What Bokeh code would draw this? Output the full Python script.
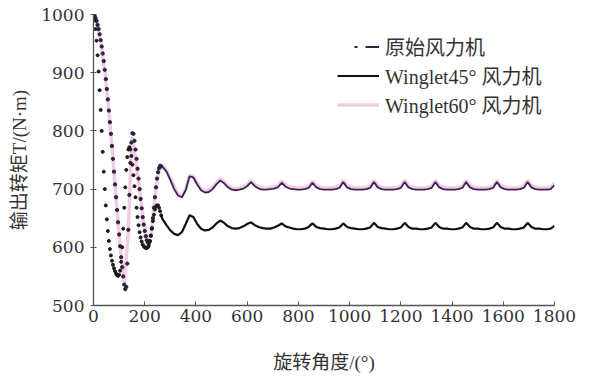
from bokeh.plotting import figure
from bokeh.models import Legend, LegendItem
from bokeh.embed import file_html
from bokeh.resources import INLINE

# ---------------- data ----------------
trans_angle = list(range(0, 265, 4))          # transient part, deg
steady_angle = list(range(270, 1801, 15))     # steady part, deg
w60_angle = list(range(0, 1801, 15))

orig_trans = [1000, 998, 994, 989, 982, 975, 966, 956, 945, 933,
              920, 905, 889, 872, 854, 835, 815, 795, 774, 752,
              730, 708, 686, 664, 643, 622, 602, 583, 566, 550,
              536, 528, 532, 572, 630, 690, 745, 780, 796, 795,
              783, 768, 752, 735, 718, 700, 683, 667, 652, 639,
              628, 619, 612, 608, 607, 611, 620, 633, 650, 668,
              686, 703, 718, 729, 736, 740, 739]

w45_trans = [1000, 990, 975, 955, 930, 902, 870, 836, 800, 764,
             730, 700, 672, 648, 628, 611, 597, 586, 577, 570,
             564, 559, 555, 552, 551, 553,
             560, 575, 600, 632, 668, 703, 733, 755, 768, 772,
             768, 757, 742, 724, 705, 686, 668, 652, 638, 626,
             617, 610, 605, 602, 600,
             599, 599, 600, 603, 610, 620, 632, 645, 656, 665,
             670, 672, 672, 668, 662, 655]

orig_steady = [738, 730, 716, 700, 689, 686, 698, 722,
               720, 708, 698, 694, 695, 700, 708, 715,
               710, 703, 699, 698, 699, 701, 705, 712,
               705, 701, 699, 699, 700, 701, 703, 711,
               704, 701, 700, 699, 699, 700, 702, 711,
               703, 700, 699, 699, 699, 700, 702, 712,
               703, 700, 699, 699, 699, 700, 702, 712,
               703, 700, 699, 699, 699, 700, 702, 712,
               703, 700, 699, 699, 699, 700, 702, 712,
               703, 700, 699, 699, 699, 700, 702, 712,
               703, 700, 699, 699, 699, 700, 702, 712,
               703, 700, 699, 699, 699, 700, 702, 712,
               703, 700, 699, 699, 699, 700, 707]

w45_steady = [648, 638, 629, 623, 621, 626, 640, 655,
              652, 640, 632, 629, 630, 634, 641, 646,
              642, 636, 633, 632, 633, 636, 640, 643,
              638, 635, 633, 632, 632, 634, 637, 641,
              636, 634, 632, 631, 631, 632, 635, 641,
              635, 633, 632, 631, 631, 632, 634, 641,
              635, 633, 632, 631, 631, 632, 634, 642,
              635, 633, 632, 631, 631, 632, 634, 642,
              635, 632, 632, 631, 631, 632, 634, 642,
              635, 632, 632, 631, 631, 632, 634, 642,
              635, 632, 632, 631, 631, 632, 634, 642,
              635, 632, 632, 631, 631, 632, 634, 642,
              635, 632, 632, 631, 631, 632, 637]

w60_torque = [1000, 984, 950, 900, 835, 757, 675, 597, 540, 620,
              790, 750, 700, 645, 612, 622, 686, 734,
              740, 733, 719, 704, 692, 689, 700, 724,
              722, 711, 701, 697, 698, 703, 711, 718,
              713, 706, 702, 701, 702, 704, 708, 715,
              708, 704, 702, 702, 703, 704, 706, 714,
              707, 704, 703, 702, 702, 703, 705, 714,
              706, 703, 702, 702, 702, 703, 705, 715,
              706, 703, 702, 702, 702, 703, 705, 715,
              706, 703, 702, 702, 702, 703, 705, 715,
              706, 703, 702, 702, 702, 703, 705, 715,
              706, 703, 702, 702, 702, 703, 705, 715,
              706, 703, 702, 702, 702, 703, 705, 715,
              706, 703, 702, 702, 702, 703, 705, 715,
              706, 703, 702, 702, 702, 703, 710]

x_ticks = [0, 200, 400, 600, 800, 1000, 1200, 1400, 1600, 1800]
y_ticks = [500, 600, 700, 800, 900, 1000]

labels = ["原始风力机", "Winglet45° 风力机", "Winglet60° 风力机"]
x_title = "旋转角度/(°)"
y_title = "输出转矩T/(N·m)"

assert len(orig_trans) == len(trans_angle), (len(orig_trans), len(trans_angle))
assert len(w45_trans) == len(trans_angle), (len(w45_trans), len(trans_angle))
assert len(orig_steady) == len(steady_angle), (len(orig_steady), len(steady_angle))
assert len(w45_steady) == len(steady_angle), (len(w45_steady), len(steady_angle))
assert len(w60_torque) == len(w60_angle), (len(w60_torque), len(w60_angle))

# ---------------- figure ----------------
NUM_FONT = "DejaVu Serif"
CJK_FONT = "Liberation Serif, Noto Sans CJK SC"
DARK = "#2b2340"

p = figure(width=586, height=375, x_range=(0, 1800), y_range=(500, 1000),
           output_backend="svg", toolbar_location=None,
           min_border_left=93, min_border_right=32,
           min_border_top=14, min_border_bottom=70)
p.outline_line_color = None
p.grid.visible = False
p.background_fill_color = "white"

# Winglet60 (pink, underneath)
r60 = p.line(w60_angle, w60_torque, line_color="#e58fc0", line_width=3.5, line_alpha=0.45)

# original (dots + dense steady trace)
p.scatter(trans_angle, orig_trans, size=3.3, color=DARK)
p.line([trans_angle[-1]] + steady_angle, [orig_trans[-1]] + orig_steady,
       line_color="#3a2456", line_width=1.8)
# legend-only glyph for the dotted series (NaN data, nothing drawn in the plot)
r_orig_leg = p.line(x=[0, 0], y=[float("nan"), float("nan")], line_color=DARK,
                    line_width=2, line_dash="0 17 3 8 14 60")

# Winglet45 (black)
p.scatter(trans_angle, w45_trans, size=3.0, color="#1a1a1a")
r45 = p.line([trans_angle[-1]] + steady_angle, [w45_trans[-1]] + w45_steady,
             line_color="#111111", line_width=2.2)

# axes
p.xaxis.ticker = x_ticks
p.yaxis.ticker = y_ticks
for ax in (p.xaxis[0], p.yaxis[0]):
    ax.axis_line_color = "#555555"
    ax.axis_line_width = 1.3
    ax.major_tick_line_color = "#555555"
    ax.minor_tick_line_color = None
    ax.major_label_text_font = NUM_FONT
    ax.major_label_text_font_size = "17px"
    ax.major_label_text_color = "#333333"
    ax.axis_label_text_font = CJK_FONT
    ax.axis_label_text_font_size = "19px"
    ax.axis_label_text_font_style = "normal"
    ax.axis_label_text_color = "#333333"
p.xaxis.major_tick_in = 4
p.xaxis.major_tick_out = 0
p.yaxis.major_tick_in = 3
p.yaxis.major_tick_out = 3
p.xaxis.major_label_standoff = 4
p.yaxis.major_label_standoff = 6
p.xaxis.axis_label = x_title
p.yaxis.axis_label = y_title
p.xaxis.axis_label_standoff = 27
p.yaxis.axis_label_standoff = 8

legend = Legend(items=[
    LegendItem(label=labels[0], renderers=[r_orig_leg]),
    LegendItem(label=labels[1], renderers=[r45]),
    LegendItem(label=labels[2], renderers=[r60]),
], location=(244, 186))
legend.background_fill_alpha = 0
legend.border_line_color = None
legend.label_text_font = CJK_FONT
legend.label_text_font_size = "20px"
legend.label_text_color = "#333333"
legend.glyph_width = 42
legend.glyph_height = 27
legend.label_height = 27
legend.spacing = 0
legend.padding = 0
legend.margin = 0
legend.label_standoff = 6
p.add_layout(legend, "center")

open("out.html", "w").write(file_html(p, INLINE))
